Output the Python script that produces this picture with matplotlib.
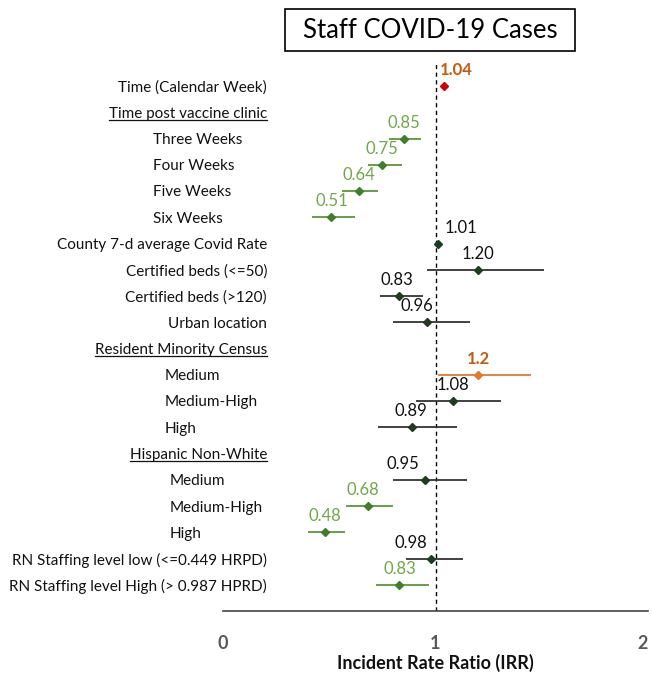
import matplotlib
matplotlib.use("Agg")
import matplotlib.pyplot as plt
from matplotlib.patches import Rectangle
from matplotlib.lines import Line2D

plt.rcParams['font.family'] = ['Lato', 'DejaVu Sans']

# ---- data ----
title = "Staff COVID-19 Cases"
xlabel = "Incident Rate Ratio (IRR)"
x_ticks = [0, 1, 2]
x_tick_labels = ["0", "1", "2"]

row_labels = [
    "Time (Calendar Week)", "Time post vaccine clinic", "Three Weeks", "Four Weeks",
    "Five Weeks", "Six Weeks", "County 7-d average Covid Rate", "Certified beds (<=50)",
    "Certified beds (>120)", "Urban location", "Resident Minority Census", "Medium",
    "Medium-High", "High", "Hispanic Non-White", "Medium", "Medium-High", "High",
    "RN Staffing level low (<=0.449 HRPD)", "RN Staffing level High (> 0.987 HPRD)",
]
row_kinds = ["r", "h", "a", "a", "a", "a", "r", "r", "r", "r", "h", "b", "b", "b",
             "h", "c", "c", "c", "r", "r"]

estimates = [1.04, 0.85, 0.75, 0.64, 0.51, 1.01, 1.20, 0.83, 0.96, 1.2, 1.08, 0.89,
             0.95, 0.68, 0.48, 0.98, 0.83]
lower = [1.03, 0.78, 0.68, 0.56, 0.42, 1.005, 0.96, 0.74, 0.80, 1.01, 0.91, 0.73,
         0.80, 0.58, 0.40, 0.86, 0.72]
upper = [1.05, 0.93, 0.84, 0.73, 0.62, 1.015, 1.51, 0.94, 1.16, 1.45, 1.31, 1.10,
         1.15, 0.80, 0.575, 1.13, 0.97]
value_text = ["1.04", "0.85", "0.75", "0.64", "0.51", "1.01", "1.20", "0.83", "0.96",
              "1.2", "1.08", "0.89", "0.95", "0.68", "0.48", "0.98", "0.83"]
effect = ["up", "down", "down", "down", "down", "ns", "ns", "ns", "ns", "up2", "ns", "ns",
          "ns", "down", "down", "ns", "down"]

# ---- styles ----
text_col = {"up": "#C55A11", "up2": "#C55A11", "down": "#6FA84A", "ns": "#111111"}
line_col = {"up": "#D00000", "up2": "#E07A2E", "down": "#5A9639", "ns": "#333333"}
mark_col = {"up": "#D00000", "up2": "#E07A2E", "down": "#3F7F2A", "ns": "#1E3D1E"}
bold = {"up": "bold", "up2": "bold", "down": "normal", "ns": "normal"}
label_dx = [9, 0, 0, 0, 0, 17, 0, -2, -7, 0, 0, -1, -16, -3, 0, -15, 0]  # points

W, H = 652, 674
fig = plt.figure(figsize=(W / 100, H / 100), dpi=100)
ax_left, ax_right = 223, 648
ax_top, ax_bot = 62, 611
ax = fig.add_axes([ax_left / W, 1 - ax_bot / H, (ax_right - ax_left) / W, (ax_bot - ax_top) / H])

row_step = 26.26
y_top = -(86 - ax_top) / row_step
y_bot = 19 + (ax_bot - 585) / row_step
ax.set_xlim(0, 2)
ax.set_ylim(y_bot, y_top)

item_rows = [i for i, k in enumerate(row_kinds) if k != "h"]

for j, r in enumerate(item_rows):
    e = effect[j]
    ax.plot([lower[j], upper[j]], [r, r], color=line_col[e], lw=1.3, solid_capstyle="butt", zorder=2)
    ax.plot([estimates[j]], [r], marker="D", ms=3.6, color=mark_col[e], zorder=3, linestyle="none")
    ax.annotate(value_text[j], (estimates[j], r), xytext=(label_dx[j], 11.5),
                textcoords="offset points", ha="center", va="center", fontsize=12,
                color=text_col[e], fontweight=bold[e], zorder=4)

ax.axvline(1, color="black", lw=1, linestyle=(0, (3, 2.5)), zorder=1)

# row labels
x_of = lambda px: (px - ax_left) / 212.5
anchors = {"r": (x_of(267), "right"), "h": (x_of(267), "right"),
           "a": (x_of(153), "left"), "b": (x_of(165), "left"), "c": (x_of(170), "left")}
heading_texts = []
for i, (lab, k) in enumerate(zip(row_labels, row_kinds)):
    xx, ha = anchors[k]
    t = ax.text(xx, i + 0.05, lab, ha=ha, va="center", fontsize=11, color="#111111", clip_on=False)
    if k == "h":
        heading_texts.append(t)

# axes styling
for s in ["top", "right", "left"]:
    ax.spines[s].set_visible(False)
ax.spines["bottom"].set_color("#444444")
ax.spines["bottom"].set_linewidth(1.2)
ax.set_yticks([])
ax.set_xticks(x_ticks)
ax.set_xticklabels(x_tick_labels, fontsize=13, fontweight="bold", color="#595959")
ax.tick_params(axis="x", length=0, pad=17)
ax.xaxis.get_majorticklabels()[-1].set_horizontalalignment("right")
ax.set_xlabel(xlabel, fontsize=13, fontweight="bold", color="#111111", labelpad=2)

# title box
fig.patches.append(Rectangle((285 / W, 1 - 51 / H), 290 / W, 42 / H, transform=fig.transFigure,
                             fill=False, edgecolor="black", lw=1.2))
fig.text(430 / W, 1 - 30 / H, title, ha="center", va="center", fontsize=18.5, color="black")

# underline headings
fig.canvas.draw()
renderer = fig.canvas.get_renderer()
for t in heading_texts:
    bb = t.get_window_extent(renderer)
    y = bb.y0 + 1
    fig.add_artist(Line2D([bb.x0 / W, bb.x1 / W], [y / H, y / H], transform=fig.transFigure,
                          color="#111111", lw=0.9))

fig.savefig("out.png", dpi=100)
